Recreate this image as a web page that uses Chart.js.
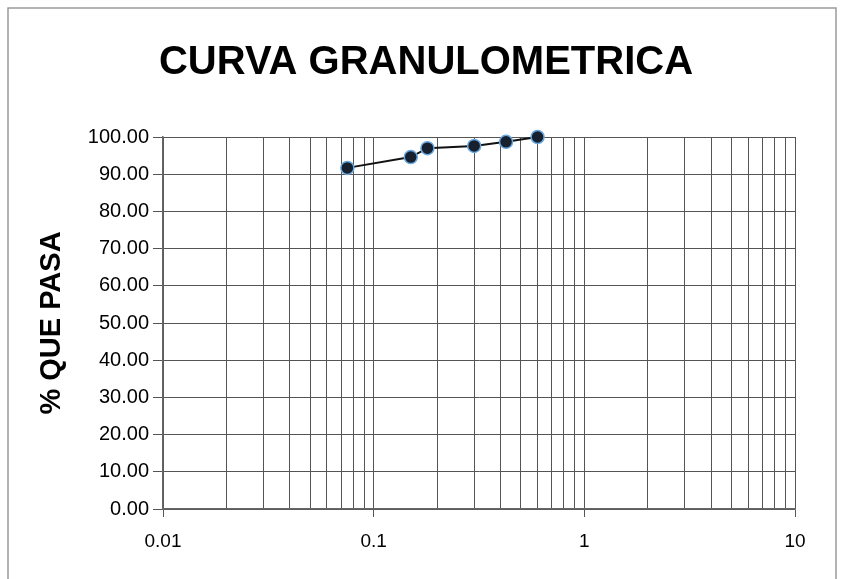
<!DOCTYPE html>
<html>
<head>
<meta charset="utf-8">
<script src="https://cdn.jsdelivr.net/npm/chart.js@4"></script>
<style>
  html, body { margin: 0; padding: 0; background: #fff; }
  #wrap { width: 846px; height: 579px; }
</style>
</head>
<body>
<div id="wrap"><canvas id="chart" width="846" height="579"></canvas></div>
<script>
// sieve openings (mm) and percent passing
const aberturas = [0.075, 0.15, 0.18, 0.30, 0.425, 0.60]
const pasa = [91.7, 94.6, 97.0, 97.6, 98.7, 100.0]
const xLabels = [0.01, 0.1, 1, 10]
const titulo = 'CURVA GRANULOMETRICA'

const puntos = aberturas.map((x, i) => ({ x: x, y: pasa[i] }))

const isMajor = (v) => xLabels.some(m => Math.abs(v - m) / m < 1e-6)

// 1..9 in each decade, for the log grid
const logTicks = () => {
    const t = []
    for (let e = -2; e < 1; e++) {
        for (let s = 1; s < 10; s++) t.push({ value: +(s * Math.pow(10, e)).toPrecision(3) })
    }
    t.push({ value: 10 })
    return t
}

const marco = {
    id: 'marco',
    beforeDraw(chart) {
        const ctx = chart.ctx
        ctx.save()
        ctx.strokeStyle = '#9a9a9a'
        ctx.lineWidth = 1.5
        ctx.beginPath()
        ctx.moveTo(8, 579)
        ctx.lineTo(8, 8)
        ctx.lineTo(836, 8)
        ctx.lineTo(836, 579)
        ctx.stroke()
        ctx.fillStyle = '#000'
        ctx.font = 'bold 40px "Liberation Sans", Arial'
        ctx.textAlign = 'center'
        ctx.textBaseline = 'middle'
        ctx.fillText(titulo, 426, 63)
        ctx.restore()
    }
}

new Chart(document.getElementById('chart').getContext('2d'), {
    type: 'line',
    data: {
        datasets: [{
            data: puntos,
            borderColor: '#111',
            borderWidth: 2,
            pointRadius: 6.5,
            pointBackgroundColor: '#17202e',
            pointBorderColor: '#6aa8e0',
            pointBorderWidth: 1.5,
            tension: 0,
            clip: false
        }]
    },
    options: {
        responsive: false,
        animation: false,
        layout: { padding: { left: 0, right: 51, top: 137, bottom: 0 } },
        plugins: {
            legend: { display: false },
            tooltip: { enabled: false }
        },
        scales: {
            x: {
                type: 'logarithmic',
                min: 0.01,
                max: 10,
                afterBuildTicks: (s) => { s.ticks = logTicks() },
                grid: {
                    color: '#555',
                    lineWidth: 1,
                    tickLength: 8,
                    tickColor: (c) => isMajor(c.tick.value) ? '#555' : 'rgba(0,0,0,0)'
                },
                border: { color: '#666', width: 1.5 },
                ticks: {
                    autoSkip: false,
                    maxRotation: 0,
                    padding: 13,
                    color: '#000',
                    font: { family: 'Liberation Sans, Arial', size: 19 },
                    callback: (v) => isMajor(v) ? String(v) : ''
                },
                afterFit: (s) => { s.height = 70 }
            },
            y: {
                min: 0,
                max: 100,
                grid: { color: '#555', lineWidth: 1, tickLength: 10 },
                border: { color: '#666', width: 1.5 },
                ticks: {
                    stepSize: 10,
                    padding: 4,
                    color: '#000',
                    font: { family: 'Liberation Sans, Arial', size: 20 },
                    callback: (v) => v.toFixed(2)
                },
                title: {
                    display: true,
                    text: '% QUE PASA',
                    color: '#000',
                    font: { family: 'Liberation Sans, Arial', size: 29, weight: 'bold' },
                    padding: { top: 35, bottom: 0 }
                },
                afterFit: (s) => { s.width = 163 }
            }
        }
    },
    plugins: [marco]
})
</script>
</body>
</html>
